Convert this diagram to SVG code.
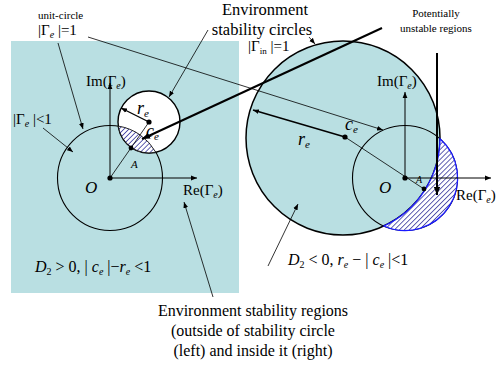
<svg xmlns="http://www.w3.org/2000/svg" width="503" height="369" viewBox="0 0 503 369" font-family="'Liberation Serif', 'DejaVu Serif', serif">
<defs>
<style>
text{font-family:'Liberation Serif','DejaVu Serif',serif;fill:#000}
.it{font-style:italic}
.thin{stroke:#000;stroke-width:0.8;fill:none}
.thick{stroke:#000;stroke-width:2;fill:none}
.ax{stroke:#000;stroke-width:1;fill:none}
.circ{stroke:#000;stroke-width:1.1;fill:none}
.dot{fill:#000}
.sub{font-size:10px}
</style>
<marker id="ah" viewBox="0 0 10 10" refX="10" refY="5" markerWidth="6" markerHeight="6" orient="auto" markerUnits="userSpaceOnUse"><path d="M0,1 L10,5 L0,9 z" fill="#000"/></marker>
<marker id="ahb" viewBox="0 0 10 10" refX="10" refY="5" markerWidth="8" markerHeight="8" orient="auto" markerUnits="userSpaceOnUse"><path d="M0,1 L10,5 L0,9 z" fill="#000"/></marker>
<pattern id="hatch" width="3.5" height="3.5" patternUnits="userSpaceOnUse" patternTransform="rotate(45)"><rect width="3.5" height="3.5" fill="#fff"/><line x1="0" y1="0" x2="0" y2="3.5" stroke="#2f2f9a" stroke-width="1.5"/></pattern>
</defs>

<g id="left-panel">
<rect x="11" y="41" width="228" height="252" fill="#b9dfe2"/>
<circle cx="110" cy="178" r="52.5" class="circ"/>
<circle cx="149" cy="122" r="31" fill="#fff" stroke="#000" stroke-width="1.4"/>
<path d="M118.3,126.1 A31,31 0 0 0 155.8,152.2 A52.5,52.5 0 0 0 118.3,126.1 Z" fill="url(#hatch)" stroke="#111" stroke-width="0.9"/>
<line x1="110" y1="178" x2="110" y2="83" class="ax" marker-end="url(#ah)"/>
<line x1="110" y1="178" x2="197" y2="178" class="ax" marker-end="url(#ah)"/>
<line x1="110" y1="178" x2="149" y2="122" class="thin"/>
<line x1="149" y1="122" x2="121" y2="108" stroke="#000" stroke-width="1.3" marker-end="url(#ah)"/>
<circle cx="110" cy="178" r="2.6" class="dot"/>
<circle cx="131" cy="148" r="2.4" class="dot"/>
<circle cx="149" cy="122" r="2.6" class="dot"/>
<text x="86" y="86" font-size="15">Im(Γ<tspan class="it sub" dy="3">e</tspan><tspan dy="-3">)</tspan></text>
<text x="183" y="195" font-size="15">Re(Γ<tspan class="it sub" dy="3">e</tspan><tspan dy="-3">)</tspan></text>
<text x="85" y="193" font-size="17" class="it">O</text>
<text x="131" y="168" font-size="11" class="it">A</text>
<text x="137" y="114" font-size="18" class="it">r<tspan font-size="11" dy="3">e</tspan></text>
<text x="146" y="137" font-size="18" class="it">c<tspan font-size="11" dy="3">e</tspan></text>
<text x="13" y="124" font-size="15">|Γ<tspan class="it sub" dy="3">e</tspan><tspan dy="-3"> |&lt;1</tspan></text>
<text x="35" y="272" font-size="16"><tspan class="it">D</tspan><tspan font-size="10" dy="3">2</tspan><tspan dy="-3"> &gt; 0,  | </tspan><tspan class="it">c</tspan><tspan class="it" font-size="10" dy="3">e</tspan><tspan dy="-3"> |−</tspan><tspan class="it">r</tspan><tspan class="it" font-size="10" dy="3">e</tspan><tspan dy="-3"> &lt;1</tspan></text>
</g>

<g id="right-panel">
<circle cx="343" cy="138" r="97" fill="#b9dfe2" stroke="#000" stroke-width="1.5"/>
<circle cx="405" cy="178" r="52.5" class="circ"/>
<path d="M440,138.8 A52.5,52.5 0 0 1 383.8,226 A97,97 0 0 0 440,138.8 Z" fill="url(#hatch)" stroke="#1a1aff" stroke-width="1.3"/>
<line x1="405" y1="178" x2="405" y2="92" class="ax" marker-end="url(#ah)"/>
<line x1="405" y1="178" x2="491" y2="178" class="ax" marker-end="url(#ah)"/>
<line x1="345" y1="137" x2="424" y2="189" class="thin"/>
<line x1="345" y1="137" x2="253" y2="110" stroke="#000" stroke-width="1.5" marker-end="url(#ah)"/>
<circle cx="405" cy="178" r="2.6" class="dot"/>
<circle cx="424" cy="189" r="2.4" class="dot"/>
<circle cx="345" cy="137" r="2.6" class="dot"/>
<text x="377" y="86" font-size="15">Im(Γ<tspan class="it sub" dy="3">e</tspan><tspan dy="-3">)</tspan></text>
<text x="456" y="200" font-size="15">Re(Γ<tspan class="it sub" dy="3">e</tspan><tspan dy="-3">)</tspan></text>
<text x="379" y="193" font-size="17" class="it">O</text>
<text x="416" y="183" font-size="10" class="it">A</text>
<text x="298" y="145" font-size="18" class="it">r<tspan font-size="11" dy="3">e</tspan></text>
<text x="345" y="130" font-size="18" class="it">c<tspan font-size="11" dy="3">e</tspan></text>
<text x="288" y="265" font-size="16"><tspan class="it">D</tspan><tspan font-size="10" dy="3">2</tspan><tspan dy="-3"> &lt; 0,  </tspan><tspan class="it">r</tspan><tspan class="it" font-size="10" dy="3">e</tspan><tspan dy="-3"> − | </tspan><tspan class="it">c</tspan><tspan class="it" font-size="10" dy="3">e</tspan><tspan dy="-3"> |&lt;1</tspan></text>
</g>

<g id="label-unit-circle">
<text x="38" y="19" font-size="11">unit-circle</text>
<text x="38" y="35" font-size="15">|Γ<tspan class="it sub" dy="3">e</tspan><tspan dy="-3"> |=1</tspan></text>
</g>

<g id="label-stability-circles">
<text x="265" y="15" font-size="16.5" text-anchor="middle">Environment</text>
<text x="262" y="35" font-size="16.5" text-anchor="middle">stability circles</text>
<text x="248" y="51" font-size="15">|Γ<tspan font-size="9" dy="3">in</tspan><tspan dy="-3"> |=1</tspan></text>
</g>

<g id="label-unstable">
<text x="436" y="17" font-size="11" text-anchor="middle">Potentially</text>
<text x="436" y="32" font-size="11" text-anchor="middle">unstable regions</text>
</g>

<g id="label-regions">
<text x="253" y="316" font-size="16" text-anchor="middle">Environment  stability regions</text>
<text x="253" y="336" font-size="16" text-anchor="middle">(outside of stability circle</text>
<text x="253" y="356" font-size="16" text-anchor="middle">(left) and inside it (right)</text>
</g>

<g id="connectors">
<line x1="58" y1="43" x2="83" y2="129" class="thin" marker-end="url(#ah)"/>
<line x1="88" y1="37" x2="383" y2="130" class="thin" marker-end="url(#ah)"/>
<line x1="43" y1="128" x2="73" y2="152" class="thin" marker-end="url(#ah)"/>
<line x1="208" y1="30" x2="169" y2="97" class="thin" marker-end="url(#ah)"/>
<line x1="309" y1="37" x2="315" y2="44" class="thin" marker-end="url(#ah)"/>
<line x1="213" y1="297" x2="184" y2="202" class="thin" marker-end="url(#ah)"/>
<line x1="268" y1="266" x2="298" y2="204" class="thin" marker-end="url(#ah)"/>
<line x1="382" y1="28" x2="142" y2="139" class="thick" marker-end="url(#ahb)"/>
<line x1="437" y1="53" x2="437" y2="195" class="thick" marker-end="url(#ahb)"/>
</g>
</svg>
